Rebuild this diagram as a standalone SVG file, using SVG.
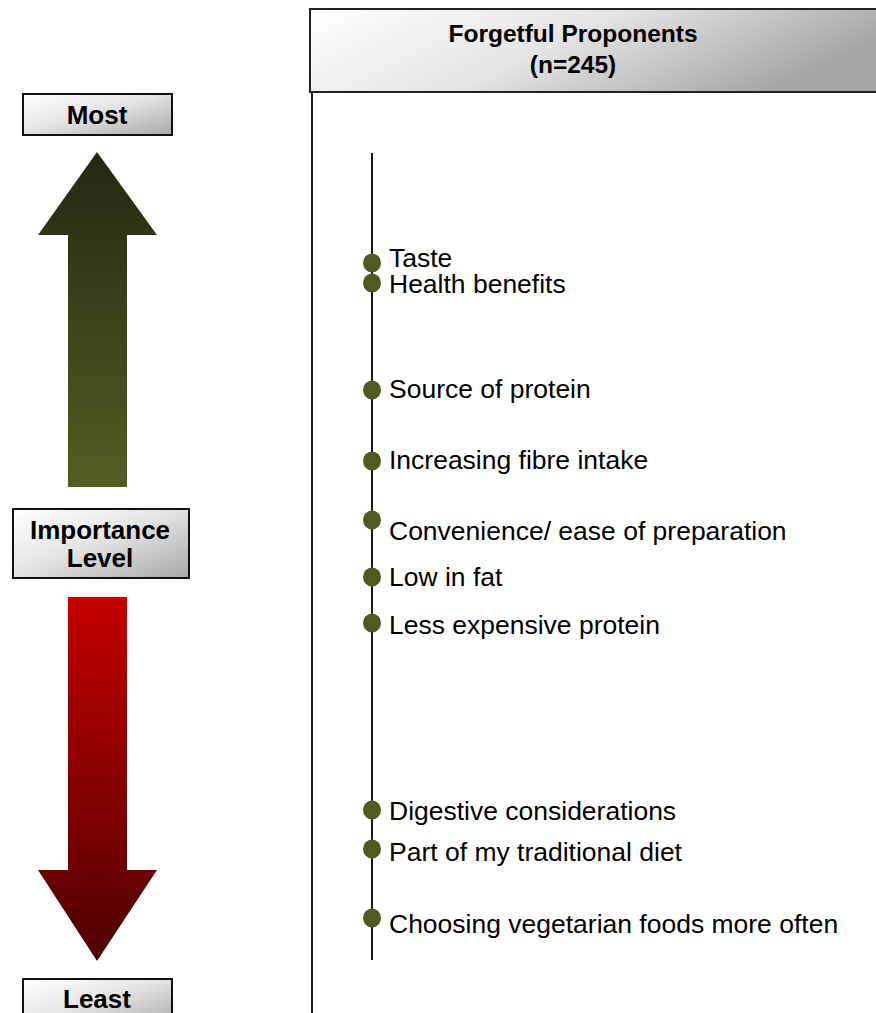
<svg xmlns="http://www.w3.org/2000/svg" width="876" height="1013" viewBox="0 0 876 1013">
<defs>
<linearGradient id="boxg" x1="0" y1="0" x2="1" y2="1">
<stop offset="0" stop-color="#ffffff"/>
<stop offset="0.45" stop-color="#e6e6e6"/>
<stop offset="1" stop-color="#a8a8a8"/>
</linearGradient>
<linearGradient id="headg" x1="0" y1="0" x2="1" y2="0.3">
<stop offset="0" stop-color="#ffffff"/>
<stop offset="0.5" stop-color="#e4e4e4"/>
<stop offset="1" stop-color="#a6a6a6"/>
</linearGradient>
<linearGradient id="upg" x1="0" y1="0" x2="0" y2="1">
<stop offset="0" stop-color="#242812"/>
<stop offset="1" stop-color="#525e22"/>
</linearGradient>
<linearGradient id="downg" x1="0" y1="0" x2="0" y2="1">
<stop offset="0" stop-color="#c40000"/>
<stop offset="1" stop-color="#4e0000"/>
</linearGradient>
</defs>
<style>
.box{fill:url(#boxg);stroke:#111;stroke-width:2}
.bt{font-family:"Liberation Sans",Arial,sans-serif;font-weight:bold;font-size:26px;fill:#000;text-anchor:middle}
.ht{font-size:24.5px}
.lab{font-family:"Liberation Sans",Arial,sans-serif;font-size:25px;fill:#000}
.dot{fill:#4f5920}
.axis{stroke:#1a1a1a;stroke-width:2;fill:none}
</style>
<rect width="876" height="1013" fill="#fff"/>
<g id="header">
<rect x="310" y="9" width="580" height="83" fill="url(#headg)" stroke="#222" stroke-width="2"/>
<text class="bt ht" x="573" y="42">Forgetful Proponents</text>
<text class="bt ht" x="573" y="73">(n=245)</text>
</g>
<g id="most">
<rect class="box" x="23" y="94" width="149" height="41"/>
<text class="bt" x="97" y="124">Most</text>
</g>
<g id="up-arrow">
<polygon points="97,152 157,235 127,235 127,487 68,487 68,235 38,235" fill="url(#upg)"/>
</g>
<g id="importance">
<rect class="box" x="13" y="509" width="176" height="69"/>
<text class="bt" x="100" y="539">Importance</text>
<text class="bt" x="100" y="567">Level</text>
</g>
<g id="down-arrow">
<polygon points="68,597 127,597 127,870 157,870 97,961 38,870 68,870" fill="url(#downg)"/>
</g>
<g id="least">
<rect class="box" x="23" y="979" width="149" height="50"/>
<text class="bt" x="97" y="1008">Least</text>
</g>
<g id="connectors">
<line class="axis" x1="312" y1="92" x2="312" y2="1013"/>
<line class="axis" x1="372" y1="153" x2="372" y2="960"/>
</g>
<g id="item-taste"><ellipse class="dot" cx="372" cy="263" rx="9" ry="9.5"/><text class="lab" transform="translate(389,267) scale(1.06,1)">Taste</text></g>
<g id="item-health"><ellipse class="dot" cx="372" cy="283" rx="9" ry="9.5"/><text class="lab" transform="translate(389,293) scale(1.06,1)">Health benefits</text></g>
<g id="item-protein"><ellipse class="dot" cx="372" cy="390" rx="9" ry="9.5"/><text class="lab" transform="translate(389,398) scale(1.06,1)">Source of protein</text></g>
<g id="item-fibre"><ellipse class="dot" cx="372" cy="461" rx="9" ry="9.5"/><text class="lab" transform="translate(389,469) scale(1.06,1)">Increasing fibre intake</text></g>
<g id="item-convenience"><ellipse class="dot" cx="372" cy="520" rx="9" ry="9.5"/><text class="lab" transform="translate(389,540) scale(1.06,1)">Convenience/ ease of preparation</text></g>
<g id="item-fat"><ellipse class="dot" cx="372" cy="577" rx="9" ry="9.5"/><text class="lab" transform="translate(389,586) scale(1.06,1)">Low in fat</text></g>
<g id="item-expensive"><ellipse class="dot" cx="372" cy="623" rx="9" ry="9.5"/><text class="lab" transform="translate(389,634) scale(1.06,1)">Less expensive protein</text></g>
<g id="item-digestive"><ellipse class="dot" cx="372" cy="810" rx="9" ry="9.5"/><text class="lab" transform="translate(389,820) scale(1.06,1)">Digestive considerations</text></g>
<g id="item-traditional"><ellipse class="dot" cx="372" cy="849" rx="9" ry="9.5"/><text class="lab" transform="translate(389,861) scale(1.06,1)">Part of my traditional diet</text></g>
<g id="item-vegetarian"><ellipse class="dot" cx="372" cy="918" rx="9" ry="9.5"/><text class="lab" transform="translate(389,933) scale(1.06,1)">Choosing vegetarian foods more often</text></g>
</svg>
